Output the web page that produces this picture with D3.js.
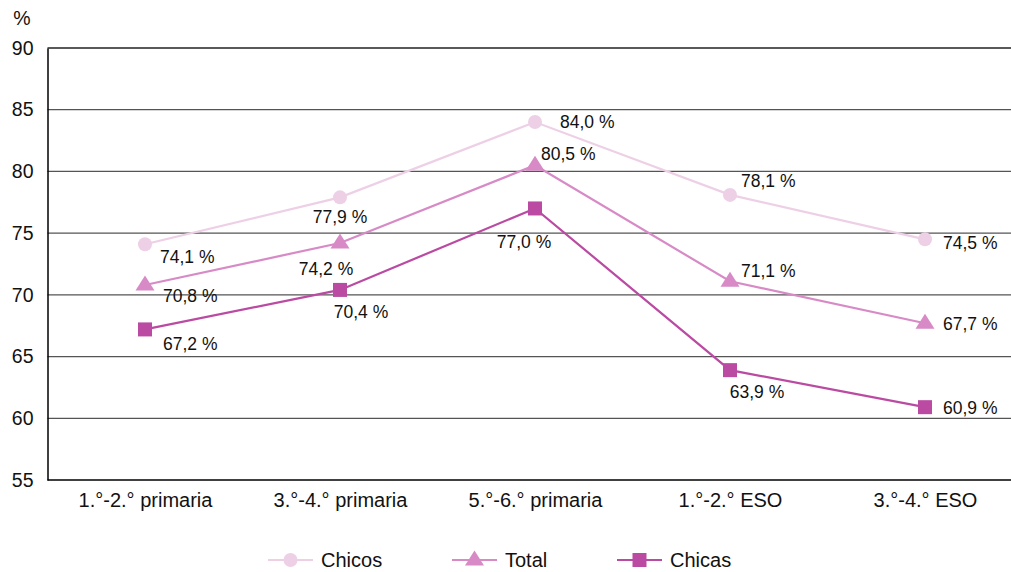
<!DOCTYPE html>
<html>
<head>
<meta charset="utf-8">
<script src="https://cdn.jsdelivr.net/npm/d3@7"></script>
<style>
  html, body { margin: 0; padding: 0; background: #fff; }
  svg { display: block; font-family: "Liberation Sans", Arial, Helvetica, sans-serif; }
</style>
</head>
<body>
<svg id="chart" width="1011" height="572"></svg>
<script>
// Categories (school levels)
const categories = ["1.°-2.° primaria", "3.°-4.° primaria", "5.°-6.° primaria", "1.°-2.° ESO", "3.°-4.° ESO"];

// Series values (%)
const chicos = [74.1, 77.9, 84.0, 78.1, 74.5];
const total  = [70.8, 74.2, 80.5, 71.1, 67.7];
const chicas = [67.2, 70.4, 77.0, 63.9, 60.9];

// Y axis ticks
const yTicks = [55, 60, 65, 70, 75, 80, 85, 90];

// Label placement relative to each point: [dx, dy, anchor]
const chicosLabelPos = [[15, 19, "start"], [0, 26, "middle"], [25, 6, "start"], [11, -8, "start"], [18, 10, "start"]];
const totalLabelPos  = [[18, 17, "start"], [-14, 32, "middle"], [6, -5, "start"], [11, -4, "start"], [18, 7, "start"]];
const chicasLabelPos = [[18, 21, "start"], [21, 28, "middle"], [-11, 40, "middle"], [27, 28, "middle"], [18, 7, "start"]];

const series = [
  { name: "Chicos", values: chicos, color: "#eed0e6", shape: "circle",   labels: chicosLabelPos },
  { name: "Total",  values: total,  color: "#d78ac6", shape: "triangle", labels: totalLabelPos },
  { name: "Chicas", values: chicas, color: "#ba4aa2", shape: "square",   labels: chicasLabelPos }
];

const svg = d3.select("#chart");
const margin = { left: 47.5, top: 48, bottom: 480 };
const bandW = 195;

const x = d3.scalePoint()
  .domain(categories)
  .range([margin.left + bandW / 2, margin.left + bandW * 4.5]);

const y = d3.scaleLinear().domain([55, 90]).range([margin.bottom, margin.top]);

// Horizontal gridlines
svg.append("g")
  .selectAll("line")
  .data(yTicks.filter(d => d > 55))
  .join("line")
  .attr("x1", margin.left)
  .attr("x2", 1011)
  .attr("y1", d => y(d))
  .attr("y2", d => y(d))
  .attr("stroke", d => d === 90 ? "#222" : "#555")
  .attr("stroke-width", 1.3);

// Y axis
const yAxis = d3.axisLeft(y).tickValues(yTicks).tickSize(0).tickPadding(14);
const yg = svg.append("g").attr("transform", `translate(${margin.left},0)`).call(yAxis);
yg.select(".domain").attr("stroke", "#000").attr("stroke-width", 1.5);
yg.selectAll("text").attr("font-size", 19.5).attr("fill", "#111")
  .attr("font-family", "'Liberation Sans', Arial, sans-serif");

// X axis (baseline)
const xAxis = d3.axisBottom(x).tickSize(0).tickPadding(13);
const xg = svg.append("g").attr("transform", `translate(0,${margin.bottom})`).call(xAxis);
xg.select(".domain").attr("d", `M${margin.left},0H1011`).attr("stroke", "#000").attr("stroke-width", 1.5);
xg.selectAll("text").attr("font-size", 20).attr("fill", "#111")
  .attr("font-family", "'Liberation Sans', Arial, sans-serif");

// Unit label
svg.append("text").attr("x", 22).attr("y", 25).attr("text-anchor", "middle")
  .attr("font-size", 19.5).attr("fill", "#111").text("%");

const line = d3.line().x((d, i) => x(categories[i])).y(d => y(d));

function drawMarker(g, shape, color, cx, cy) {
  if (shape === "circle") {
    g.append("circle").attr("cx", cx).attr("cy", cy).attr("r", 7).attr("fill", color);
  } else if (shape === "square") {
    g.append("rect").attr("x", cx - 7).attr("y", cy - 7).attr("width", 14).attr("height", 14).attr("fill", color);
  } else {
    g.append("path")
      .attr("d", `M${cx},${cy - 9.5}L${cx + 9.5},${cy + 5.5}L${cx - 9.5},${cy + 5.5}Z`)
      .attr("fill", color);
  }
}

series.forEach(s => {
  const g = svg.append("g");
  g.append("path").datum(s.values).attr("d", line)
    .attr("fill", "none").attr("stroke", s.color).attr("stroke-width", 2.2);
  s.values.forEach((v, i) => drawMarker(g, s.shape, s.color, x(categories[i]), y(v)));
});

// Value labels drawn on top
series.forEach(s => {
  s.values.forEach((v, i) => {
    const [dx, dy, anchor] = s.labels[i];
    svg.append("text")
      .attr("x", x(categories[i]) + dx)
      .attr("y", y(v) + dy)
      .attr("text-anchor", anchor)
      .attr("font-size", 17.5)
      .attr("fill", "#111")
      .text(v.toFixed(1).replace(".", ",") + " %");
  });
});

// Legend
const legendX = [268, 452, 617];
const legendY = 560;
series.forEach((s, i) => {
  const g = svg.append("g");
  g.append("line").attr("x1", legendX[i]).attr("x2", legendX[i] + 45)
    .attr("y1", legendY).attr("y2", legendY)
    .attr("stroke", s.color).attr("stroke-width", 2.2);
  drawMarker(g, s.shape, s.color, legendX[i] + 22.5, legendY);
  g.append("text").attr("x", legendX[i] + 53).attr("y", legendY + 7)
    .attr("font-size", 20).attr("fill", "#111").text(s.name);
});
</script>
</body>
</html>
